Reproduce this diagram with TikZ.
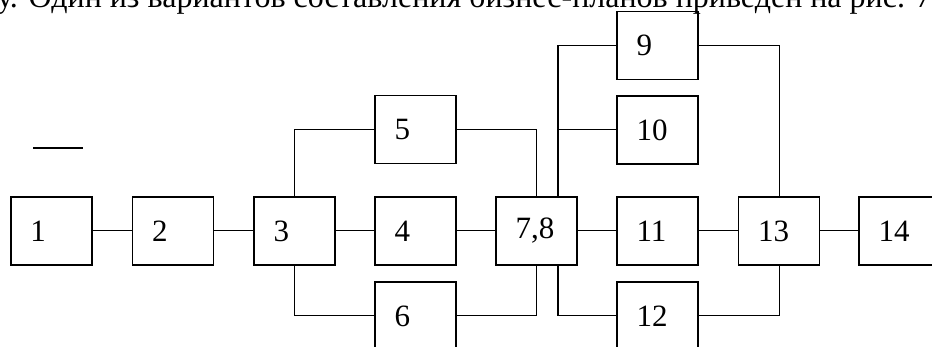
\documentclass[tikz,border=0pt]{standalone}
\usepackage{fontspec}
\setmainfont{Liberation Serif}
\usetikzlibrary{calc}
\begin{document}
\begin{tikzpicture}[x=1pt,y=-1pt,
  blk/.style={draw,line width=1.8pt,rectangle,minimum height=68pt,text width=42pt,inner xsep=19.5pt,inner ysep=0pt,align=left,font=\fontsize{31}{31}\selectfont},
  conn/.style={draw,line width=1pt},
  thick conn/.style={draw,line width=1.8pt}]
\useasboundingbox (0,0) rectangle (932,347);
\clip (0,0) rectangle (932,347);
\fill[white] (0,0) rectangle (932,347);
\node[anchor=base west,inner sep=0pt,font=\fontsize{32}{32}\selectfont] (cap) at (-3,8) {у. Один из вариантов составления бизнес-планов приведен на рис. 7};
\coordinate (d1) at (33,148);
\coordinate (d2) at (83,148);
\draw[line width=2pt] (d1) -- (d2);
\node[blk] (n1) at (51.5,231) {1};
\node[blk] (n2) at (173,231) {2};
\node[blk] (n3) at (294.5,231) {3};
\node[blk] (n4) at (415.5,231) {4};
\node[blk] (n5) at (415.5,129.5) {5};
\node[blk] (n6) at (415.5,316) {6};
\node[blk] (n78) at (536.5,231) {7,8};
\node[blk] (n9) at (657.5,45.5) {9};
\node[blk] (n10) at (657.5,130) {10};
\node[blk] (n11) at (657.5,231) {11};
\node[blk] (n12) at (657.5,316) {12};
\node[blk] (n13) at (779,231) {13};
\node[blk] (n14) at (899.5,231) {14};
\draw[conn] (n1) -- (n2);
\draw[conn] (n2) -- (n3);
\draw[conn] (n3) -- (n4);
\draw[conn] (n4) -- (n78);
\draw[conn] (n78) -- (n11);
\draw[conn] (n11) -- (n13);
\draw[conn] (n13) -- (n14);
\draw[conn] (n3.north) |- (n5.west);
\draw[conn] (n3.south) |- (n6.west);
\coordinate (c5) at (n5.east -| n78.north);
\coordinate (c6) at (n6.east -| n78.south);
\draw[conn] (n5.east) -- (c5);
\draw[thick conn] (c5) -- (n78.north);
\draw[conn] (n6.east) -- (c6);
\draw[thick conn] (c6) -- (n78.south);
\coordinate (tn) at ($(n78.north east)+(-20,0)$);
\coordinate (ts) at ($(n78.south east)+(-20,0)$);
\coordinate (c9) at (tn |- n9.west);
\coordinate (c10) at (tn |- n10.west);
\coordinate (c12) at (ts |- n12.west);
\draw[thick conn] (tn) -- (c9);
\draw[conn] (c9) -- (n9.west);
\draw[conn] (c10) -- (n10.west);
\draw[thick conn] (ts) -- (c12);
\draw[conn] (c12) -- (n12.west);
\draw[conn] (n9.east) -| (n13.north);
\draw[conn] (n12.east) -| (n13.south);
\end{tikzpicture}
\end{document}
